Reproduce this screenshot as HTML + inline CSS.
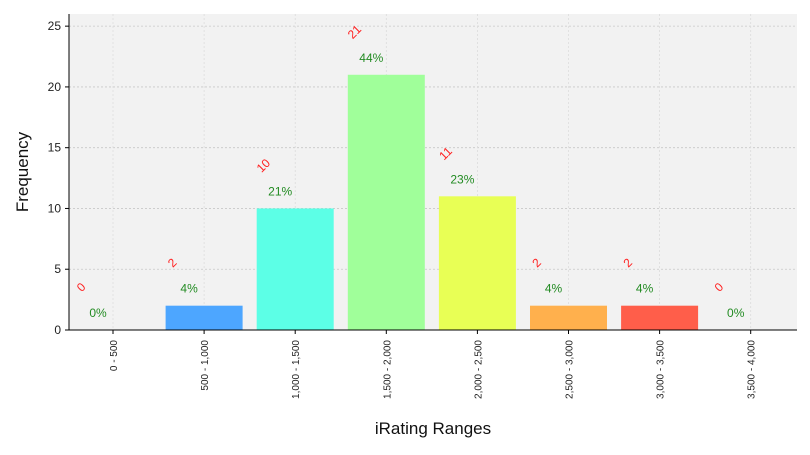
<!DOCTYPE html>
<html><head><meta charset="utf-8"><style>
body{margin:0;background:#fff;font-family:"Liberation Sans","DejaVu Sans",sans-serif}
</style></head><body>
<svg id="chart" width="810" height="450" xmlns="http://www.w3.org/2000/svg"></svg>
<script>
const categories=["0 - 500","500 - 1,000","1,000 - 1,500","1,500 - 2,000","2,000 - 2,500","2,500 - 3,000","3,000 - 3,500","3,500 - 4,000"];
const counts=[0,2,10,21,11,2,2,0];
const colors=["#4da6ff","#4da6ff","#5cffe6","#a0ff9a","#e8ff55","#ffb04d","#ff5e4a","#ff5e4a"];
const yTicks=[0,5,10,15,20,25];
const L=69,R=797,T=14,B=330,yMax=26;
const svg=document.getElementById('chart');
const NS="http://www.w3.org/2000/svg";
function y(v){return B-(v/yMax)*(B-T);}
function x(i){return 113+i*91.1;}
function add(tag,attrs,txt,name){const e=document.createElementNS(NS,tag);for(const k in attrs)e.setAttribute(k,attrs[k]);if(txt!==undefined)e.textContent=txt;


svg.appendChild(e);return e;}
add('rect',{x:L,y:T,width:R-L,height:B-T,fill:'#f2f2f2'},undefined,'plot-area');
yTicks.forEach(t=>{add('line',{x1:L,x2:R,y1:y(t),y2:y(t),stroke:'#c8c8c8','stroke-dasharray':'2,2','stroke-width':0.8},undefined,'y-gridline');
add('line',{x1:L-4,x2:L,y1:y(t),y2:y(t),stroke:'#000'},undefined,'y-tick');
add('text',{x:L-8,y:y(t)+4,'text-anchor':'end','font-size':12,fill:'#222'},String(t),'y-tick-label');});
const total=counts.reduce((a,b)=>a+b,0);
categories.forEach((c,i)=>{const cx=x(i);
add('line',{x1:cx,x2:cx,y1:T,y2:B,stroke:'#dcdcdc','stroke-dasharray':'2,2','stroke-width':0.8},undefined,'x-gridline');});
categories.forEach((c,i)=>{const cx=x(i),v=counts[i];
if(v>0)add('rect',{x:cx-38.5,y:y(v),width:77,height:B-y(v),fill:colors[i]},undefined,'bar-'+i);
add('line',{x1:cx,x2:cx,y1:B,y2:B+4,stroke:'#000'},undefined,'x-tick');
add('text',{x:0,y:0,transform:`translate(${cx+4},${B+10}) rotate(-90)`,'text-anchor':'end','font-size':10,fill:'#222'},c,'x-tick-label');
add('text',{x:cx-15,y:y(v)-13,'text-anchor':'middle','font-size':12,fill:'#228b22'},Math.round(v/total*100)+'%','percent-label');
add('text',{x:0,y:0,transform:`translate(${cx-29},${y(v)-40}) rotate(-45)`,'text-anchor':'middle','font-size':12,fill:'#ff2020'},String(v),'count-label');});
add('line',{x1:L,x2:L,y1:T,y2:B,stroke:'#000'},undefined,'y-axis');
add('line',{x1:L,x2:R,y1:B,y2:B,stroke:'#000'},undefined,'x-axis');
add('text',{x:433,y:434,'text-anchor':'middle','font-size':17,fill:'#111'},'iRating Ranges','x-axis-title');
add('text',{x:0,y:0,transform:'translate(28,172) rotate(-90)','text-anchor':'middle','font-size':17,fill:'#111'},'Frequency','y-axis-title');
</script>
</body></html>
